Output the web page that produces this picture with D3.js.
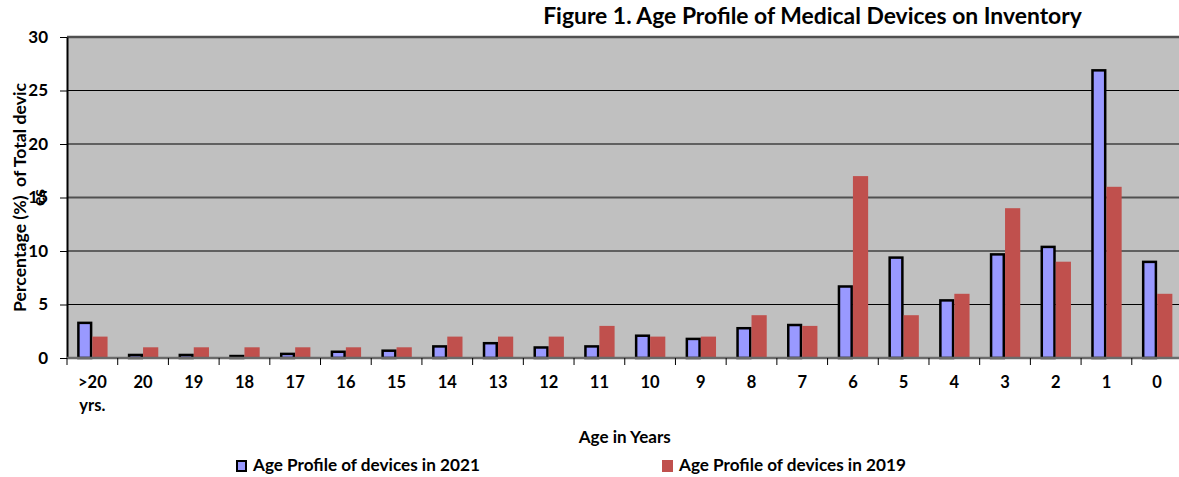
<!DOCTYPE html>
<html>
<head>
<meta charset="utf-8">
<script src="https://cdn.jsdelivr.net/npm/d3@7"></script>
<style>
body { margin: 0; background: #fff; overflow: hidden; }
text { font-family: Lato, "Open Sans", sans-serif; font-weight: bold; fill: #000; white-space: pre; }
</style>
</head>
<body>
<svg></svg>
<script>
// data
var ages = [">20 yrs.", "20", "19", "18", "17", "16", "15", "14", "13", "12", "11",
            "10", "9", "8", "7", "6", "5", "4", "3", "2", "1", "0"];
var pct2021 = [3.4, 0.4, 0.4, 0.3, 0.5, 0.7, 0.8, 1.2, 1.5, 1.1, 1.2,
               2.2, 1.9, 2.9, 3.2, 6.8, 9.5, 5.5, 9.8, 10.5, 27, 9.1];
var pct2019 = [2, 1, 1, 1, 1, 1, 1, 2, 2, 2, 3,
               2, 2, 4, 3, 17, 4, 6, 14, 9, 16, 6];
var seriesNames = ["Age Profile of devices in 2021", "Age Profile of devices in 2019"];
var seriesColors = ["#9999ff", "#c0504d"];
var yTicks = [0, 5, 10, 15, 20, 25, 30];

var width = 1179;
var height = 477;
var plotLeft = 67, plotRight = 1182.5, plotTop = 37, plotBottom = 358;

var svg = d3.select("svg")
    .attr("width", width)
    .attr("height", height);

var xScale = d3.scaleBand()
    .domain(ages)
    .range([plotLeft, plotRight]);

var inner = d3.scaleBand()
    .domain([0, 1])
    .range([xScale.bandwidth() * 0.2, xScale.bandwidth() * 0.8]);

var yScale = d3.scaleLinear()
    .domain([0, 30])
    .range([plotBottom, plotTop]);

// shrink/grow a text so it spans a given width
function fit(sel, w) {
    var size = parseFloat(sel.style("font-size"));
    var len = sel.node().getComputedTextLength();
    sel.style("font-size", (size * w / len) + "px");
}

// plot background
svg.append("rect")
    .attr("x", plotLeft)
    .attr("y", plotTop)
    .attr("width", plotRight - plotLeft)
    .attr("height", plotBottom - plotTop)
    .attr("fill", "#c0c0c0");

// gridlines
svg.append("g")
    .selectAll("line")
    .data(yTicks.filter(d => d > 0))
    .enter()
    .append("line")
     .attr("x1", plotLeft)
     .attr("x2", plotRight)
     .attr("y1", d => yScale(d))
     .attr("y2", d => yScale(d))
     .attr("stroke", d => d === 15 || d === 30 ? "#505050" : "#000")
     .attr("stroke-width", d => d === 30 ? 2.5 : (d === 15 ? 2 : 1));

// bars
var groups = svg.append("g")
    .selectAll("g")
    .data(ages)
    .enter()
    .append("g")
     .attr("transform", d => `translate(${xScale(d)},0)`);

groups.append("rect")
    .attr("x", inner(0) + 1.25)
    .attr("y", (d, i) => yScale(pct2021[i]) + 1.25)
    .attr("width", inner.bandwidth() - 2.5)
    .attr("height", (d, i) => Math.max(0, plotBottom - yScale(pct2021[i]) - 1.25))
    .attr("fill", seriesColors[0])
    .attr("stroke", "#000")
    .attr("stroke-width", 2.5);

groups.append("rect")
    .attr("x", inner(1))
    .attr("y", (d, i) => yScale(pct2019[i]))
    .attr("width", inner.bandwidth())
    .attr("height", (d, i) => plotBottom - yScale(pct2019[i]))
    .attr("fill", seriesColors[1]);

// y axis
var yAxis = d3.axisLeft(yScale)
    .tickValues(yTicks)
    .tickSize(7)
    .tickPadding(12)
    .tickSizeOuter(0);

var gy = svg.append("g")
    .attr("transform", `translate(${plotLeft},0)`)
    .call(yAxis);
gy.select(".domain").attr("stroke", "#000").attr("stroke-width", 2);
gy.selectAll(".tick line").attr("stroke", "#000");
gy.selectAll("text")
    .style("font-size", "17px")
    .style("font-family", "Lato, sans-serif")
    .style("font-weight", "bold");

// x axis: labels in the middle, ticks on the category edges
var xAxis = d3.axisBottom(xScale)
    .tickSize(0)
    .tickPadding(18);

var gx = svg.append("g")
    .attr("transform", `translate(0,${plotBottom})`)
    .call(xAxis);
gx.select(".domain")
    .attr("d", `M${plotLeft},0H${plotRight}`)
    .attr("stroke", "#6a6a6a")
    .attr("stroke-width", 2.5);
gx.selectAll("text")
    .style("font-size", "16.5px")
    .style("font-family", "Lato, sans-serif")
    .style("font-weight", "bold")
    .each(function(d) {
        var parts = d.split(" ");
        if (parts.length < 2) return;
        var t = d3.select(this).text(null);
        parts.forEach((p, i) => {
            t.append("tspan")
             .attr("x", 0)
             .attr("dy", i === 0 ? "0.71em" : "1.4em")
             .text(p);
        });
        t.attr("dy", null);
    });

svg.append("g")
    .selectAll("line")
    .data(d3.range(ages.length))
    .enter()
    .append("line")
     .attr("x1", d => xScale(ages[d]))
     .attr("x2", d => xScale(ages[d]))
     .attr("y1", plotBottom)
     .attr("y2", plotBottom + 7)
     .attr("stroke", "#000");

// axis titles
var yTitle = svg.append("text")
    .attr("transform", `translate(26,${(83 + 312) / 2}) rotate(-90)`)
    .style("text-anchor", "middle")
    .style("font-size", "15px")
    .text("Percentage (%)  of Total devic");
fit(yTitle, 229);

svg.append("text")
    .attr("transform", `translate(45,${(83 + 312) / 2}) rotate(-90)`)
    .style("text-anchor", "middle")
    .style("font-size", yTitle.style("font-size"))
    .text("es");

var xTitle = svg.append("text")
    .attr("x", (plotLeft + plotRight) / 2)
    .attr("y", 443)
    .style("text-anchor", "middle")
    .style("font-size", "15px")
    .text("Age in Years");
fit(xTitle, 92);

// title
var title = svg.append("text")
    .attr("x", (543 + 1082) / 2)
    .attr("y", 24)
    .style("text-anchor", "middle")
    .style("font-size", "19px")
    .text("Figure 1. Age Profile of Medical Devices on Inventory");
fit(title, 539);

// legend
var legendX = [236, 662];
var legend = svg.append("g")
    .selectAll("g")
    .data(seriesNames)
    .enter()
    .append("g")
     .attr("transform", (d, i) => `translate(${legendX[i]},460)`);

legend.append("rect")
    .attr("x", (d, i) => i === 0 ? 1 : 0)
    .attr("y", (d, i) => i === 0 ? 1 : 0)
    .attr("width", (d, i) => i === 0 ? 9 : 11)
    .attr("height", (d, i) => i === 0 ? 10 : 12)
    .attr("fill", (d, i) => seriesColors[i])
    .attr("stroke", (d, i) => i === 0 ? "#000" : "none")
    .attr("stroke-width", 2);

legend.append("text")
    .attr("x", 17)
    .attr("y", 11)
    .style("font-size", "15px")
    .text(d => d)
    .each(function() { fit(d3.select(this), 227); });
</script>
</body>
</html>
